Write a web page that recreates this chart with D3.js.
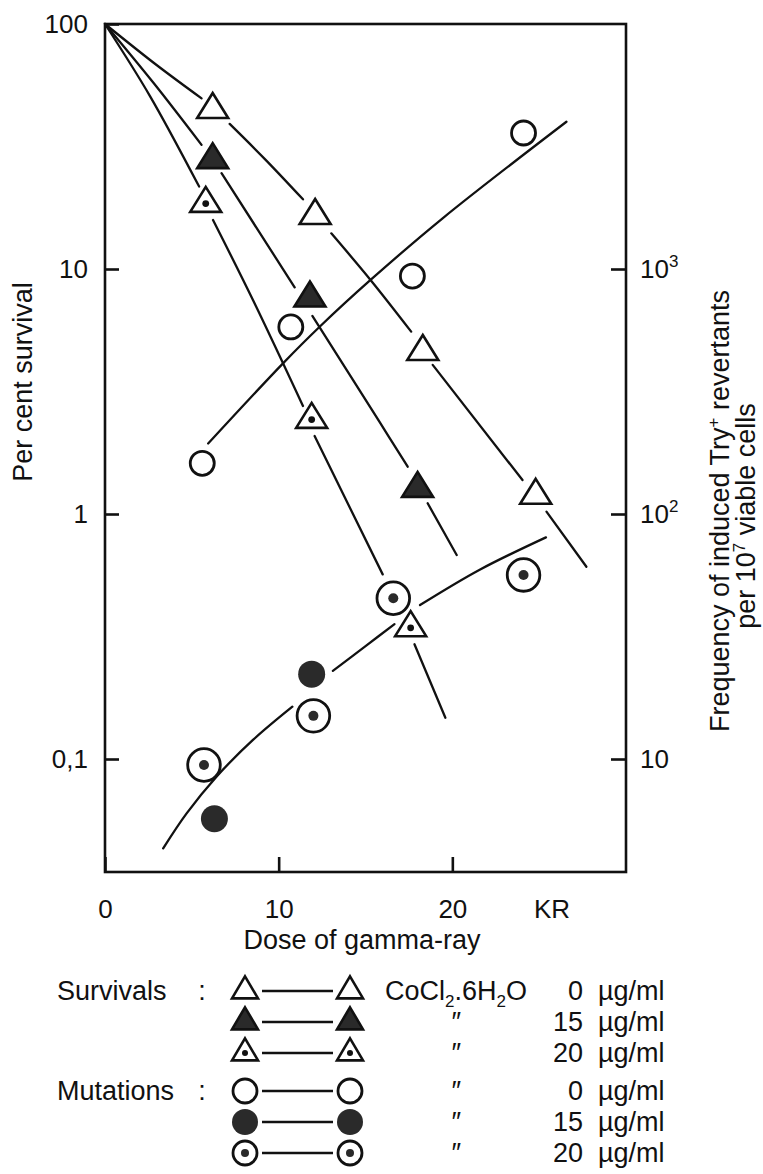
<!DOCTYPE html>
<html>
<head>
<meta charset="utf-8">
<script src="https://cdn.jsdelivr.net/npm/d3@7/dist/d3.min.js"></script>
<style>
  body { margin: 0; background: #fff; }
  svg text { font-family: "Liberation Sans", Arial, sans-serif; fill: #111; }
</style>
</head>
<body>
<svg width="763" height="1174"></svg>
<script>
// ---- axis ticks ----
var doseTicks = [0, 10, 20];
var survTicks = [100, 10, 1, 0.1];
var survTickLabels = ["100", "10", "1", "0,1"];
var freqTicks = [1000, 100, 10];
var freqTickExp = ["3", "2", ""];

// ---- survivals (per cent), dose in KR ----
var surv0Dose = [6.2, 12.1, 18.3, 24.8];
var surv0Pct = [44.7, 16.5, 4.6, 1.19];
var surv15Dose = [6.2, 11.8, 18.0];
var surv15Pct = [27.9, 7.6, 1.27];
var surv20Dose = [5.8, 11.9, 17.6];
var surv20Pct = [18.5, 2.43, 0.343];

// ---- mutations (Try+ revertants per 10^7 viable cells) ----
var mut0Dose = [5.6, 10.7, 17.7, 24.1];
var mut0Freq = [161, 580, 936, 3590];
var mut15Dose = [6.3, 11.9];
var mut15Freq = [5.7, 22.2];
var mut20Dose = [5.7, 12.0, 16.6, 24.1];
var mut20Freq = [9.45, 15.0, 45.3, 56.4];

// ---- hand drawn curves, broken around the symbols ----
var surv0Fit = [
  [[0, 100], [2.97, 68], [5.56, 49.7]],
  [[7.18, 39.1], [9.25, 27.9], [11.4, 19.25]],
  [[13.03, 13.98], [15.29, 9.02], [17.63, 5.55]],
  [[18.87, 4.06], [24.04, 1.376]],
  [[25.42, 1.022], [27.72, 0.609]]
];
var surv15Fit = [
  [[0, 100], [2.8, 57.4], [5.56, 32.1]],
  [[6.71, 24.6], [10.92, 8.42]],
  [[11.94, 6.43], [15.8, 2.38], [17.43, 1.56]],
  [[18.58, 1.106], [20.25, 0.68]]
];
var surv20Fit = [
  [[0, 100], [2.59, 50.8], [5.42, 21.7]],
  [[6.22, 15.85], [8.52, 7.47], [11.4, 2.76]],
  [[12.07, 2.08], [15.99, 0.567]],
  [[17.82, 0.294], [19.6, 0.1474]]
];
var mut0Fit = [
  [[5.94, 194], [10.25, 412], [12.36, 581], [15.29, 902], [19.44, 1610], [26.57, 3990]]
];
var mutCoFit = [
  [[3.35, 4.32], [4.7, 6.0], [6.42, 8.47], [8.52, 11.96], [10.79, 16.35]],
  [[13.12, 22.9], [15.06, 29.1], [16.67, 35.5]],
  [[18.14, 42.5], [21.55, 59.1], [25.39, 80.3]]
];

// ---- legend ----
var legendGroup = ["Survivals", "", "", "Mutations", "", ""];
var legendMarker = ["triOpen", "triFilled", "triDot", "circOpen", "circFilled", "circDot"];
var legendConc = ["0", "15", "20", "0", "15", "20"];

var ink = "#111";
var svg = d3.select("svg");

var x = d3.scaleLinear().domain([0, 30]).range([105, 626]);
var yL = d3.scaleLog().domain([100 / Math.pow(10, 848 / 245), 100]).range([872, 24]);
var yR = d3.scaleLog().domain([10000 / Math.pow(10, 848 / 245), 10000]).range([872, 24]);

// frame
svg.append("rect")
   .attr("x", x(0)).attr("y", yL(100))
   .attr("width", x(30) - x(0)).attr("height", yL.range()[0] - yL(100))
   .attr("fill", "none").attr("stroke", ink).attr("stroke-width", 2.6);

function styleAxis(g)
{
  g.select(".domain").remove();
  g.selectAll(".tick line").attr("stroke", ink).attr("stroke-width", 2.6);
  g.selectAll("text").attr("font-size", 26).attr("fill", ink)
   .attr("font-family", "Liberation Sans, Arial, sans-serif");
}

svg.append("g")
   .attr("transform", "translate(" + x(0) + ",0)")
   .call(d3.axisLeft(yL).tickValues(survTicks).tickSize(-14).tickPadding(17)
         .tickFormat(function(d, i) { return survTickLabels[i]; }))
   .call(styleAxis);

var right = svg.append("g")
   .attr("transform", "translate(" + x(30) + ",0)")
   .call(d3.axisRight(yR).tickValues(freqTicks).tickSize(-15).tickPadding(14))
   .call(styleAxis);
right.selectAll(".tick text").each(function(d, i)
{
  var t = d3.select(this).text(null);
  t.append("tspan").text("10");
  if (freqTickExp[i]) t.append("tspan").attr("dy", -11).attr("font-size", 17).text(freqTickExp[i]);
});

svg.append("g")
   .attr("transform", "translate(0," + yL.range()[0] + ")")
   .call(d3.axisBottom(x).tickValues(doseTicks).tickSize(-15).tickPadding(28))
   .call(styleAxis);

svg.append("text").attr("x", 552).attr("y", yL.range()[0] + 28).attr("dy", "0.71em")
   .attr("text-anchor", "middle").attr("font-size", 26).text("KR");

// axis titles
svg.append("text").attr("x", 362).attr("y", 949).attr("text-anchor", "middle")
   .attr("font-size", 27).text("Dose of gamma-ray");

svg.append("text").attr("transform", "translate(32,382) rotate(-90)")
   .attr("text-anchor", "middle").attr("font-size", 27).text("Per cent survival");

var rt1 = svg.append("text").attr("transform", "translate(729,511) rotate(-90)")
   .attr("text-anchor", "middle").attr("font-size", 27);
rt1.append("tspan").text("Frequency of induced Try");
rt1.append("tspan").attr("dy", -10).attr("font-size", 17).text("+");
rt1.append("tspan").attr("dy", 10).text(" revertants");

var rt2 = svg.append("text").attr("transform", "translate(755,516) rotate(-90)")
   .attr("text-anchor", "middle").attr("font-size", 27);
rt2.append("tspan").text("per 10");
rt2.append("tspan").attr("dy", -10).attr("font-size", 17).text("7");
rt2.append("tspan").attr("dy", 10).text(" viable cells");

// curves
var survLine = d3.line().x(function(d) { return x(d[0]); }).y(function(d) { return yL(d[1]); })
                 .curve(d3.curveCatmullRom.alpha(0.5));
var freqLine = d3.line().x(function(d) { return x(d[0]); }).y(function(d) { return yR(d[1]); })
                 .curve(d3.curveCatmullRom.alpha(0.5));

function drawFit(segs, line)
{
  svg.append("g").selectAll("path")
     .data(segs)
     .enter()
     .append("path")
     .attr("d", line)
     .attr("fill", "none")
     .attr("stroke", ink)
     .attr("stroke-width", 2.3)
     .attr("stroke-linecap", "round");
}
drawFit(surv0Fit, survLine);
drawFit(surv15Fit, survLine);
drawFit(surv20Fit, survLine);
drawFit(mut0Fit, freqLine);
drawFit(mutCoFit, freqLine);

// symbols
function triPath(w, h)
{
  return "M0," + (-2 * h / 3) + "L" + (w / 2) + "," + (h / 3) + "L" + (-w / 2) + "," + (h / 3) + "Z";
}

function drawSymbol(g, type, big)
{
  var tw = big ? 31 : 26, th = big ? 25 : 22;
  if (type.indexOf("tri") == 0)
  {
    g.append("path").attr("d", triPath(tw, th))
     .attr("fill", type == "triFilled" ? "#2a2a2a" : "#fff")
     .attr("stroke", ink).attr("stroke-width", 2.6).attr("stroke-linejoin", "miter");
    if (type == "triDot") g.append("circle").attr("r", big ? 3.4 : 3).attr("fill", ink);
  }
  else if (type == "circOpen")
  {
    g.append("circle").attr("r", 12).attr("fill", "#fff")
     .attr("stroke", ink).attr("stroke-width", 2.8);
  }
  else if (type == "circFilled")
  {
    g.append("circle").attr("r", big ? 13.5 : 13).attr("fill", "#2a2a2a");
  }
  else
  {
    g.append("circle").attr("r", big ? 16.3 : 12).attr("fill", "#fff")
     .attr("stroke", ink).attr("stroke-width", 2.8);
    g.append("circle").attr("r", big ? 5 : 4).attr("fill", "#2a2a2a");
  }
}

function drawPoints(dose, vals, scale, type)
{
  svg.append("g").selectAll("g")
     .data(dose)
     .enter()
     .append("g")
     .attr("transform", function(d, i) { return "translate(" + x(d) + "," + scale(vals[i]) + ")"; })
     .each(function() { drawSymbol(d3.select(this), type, true); });
}
drawPoints(surv0Dose, surv0Pct, yL, "triOpen");
drawPoints(surv15Dose, surv15Pct, yL, "triFilled");
drawPoints(surv20Dose, surv20Pct, yL, "triDot");
drawPoints(mut0Dose, mut0Freq, yR, "circOpen");
drawPoints(mut15Dose, mut15Freq, yR, "circFilled");
drawPoints(mut20Dose, mut20Freq, yR, "circDot");

// legend
var legend = svg.append("g");
var rowY = function(i) { return 991 + i * 31 + (i >= 3 ? 7 : 0); };

legendMarker.forEach(function(m, i)
{
  var y = rowY(i);
  if (legendGroup[i])
  {
    legend.append("text").attr("x", 57).attr("y", y).attr("dy", "0.35em")
          .attr("font-size", 27).text(legendGroup[i]);
    legend.append("text").attr("x", 202).attr("y", y).attr("dy", "0.35em")
          .attr("text-anchor", "middle").attr("font-size", 27).text(":");
  }
  legend.append("line").attr("x1", 262).attr("x2", 333).attr("y1", y).attr("y2", y)
        .attr("stroke", ink).attr("stroke-width", 2.3);
  drawSymbol(legend.append("g").attr("transform", "translate(245," + y + ")"), m, false);
  drawSymbol(legend.append("g").attr("transform", "translate(350," + y + ")"), m, false);

  if (i == 0)
  {
    var chem = legend.append("text").attr("x", 385).attr("y", y).attr("dy", "0.35em").attr("font-size", 27);
    chem.append("tspan").text("CoCl");
    chem.append("tspan").attr("dy", 7).attr("font-size", 17).text("2");
    chem.append("tspan").attr("dy", -7).text(".6H");
    chem.append("tspan").attr("dy", 7).attr("font-size", 17).text("2");
    chem.append("tspan").attr("dy", -7).text("O");
  }
  else
  {
    legend.append("text").attr("x", 455).attr("y", y).attr("dy", "0.35em")
          .attr("text-anchor", "middle").attr("font-size", 27).attr("font-style", "italic")
          .text("\u2033");
  }
  legend.append("text").attr("x", 583).attr("y", y).attr("dy", "0.35em")
        .attr("text-anchor", "end").attr("font-size", 27).text(legendConc[i]);
  legend.append("text").attr("x", 598).attr("y", y).attr("dy", "0.35em")
        .attr("font-size", 27).text("\u00b5g/ml");
});
</script>
</body>
</html>
